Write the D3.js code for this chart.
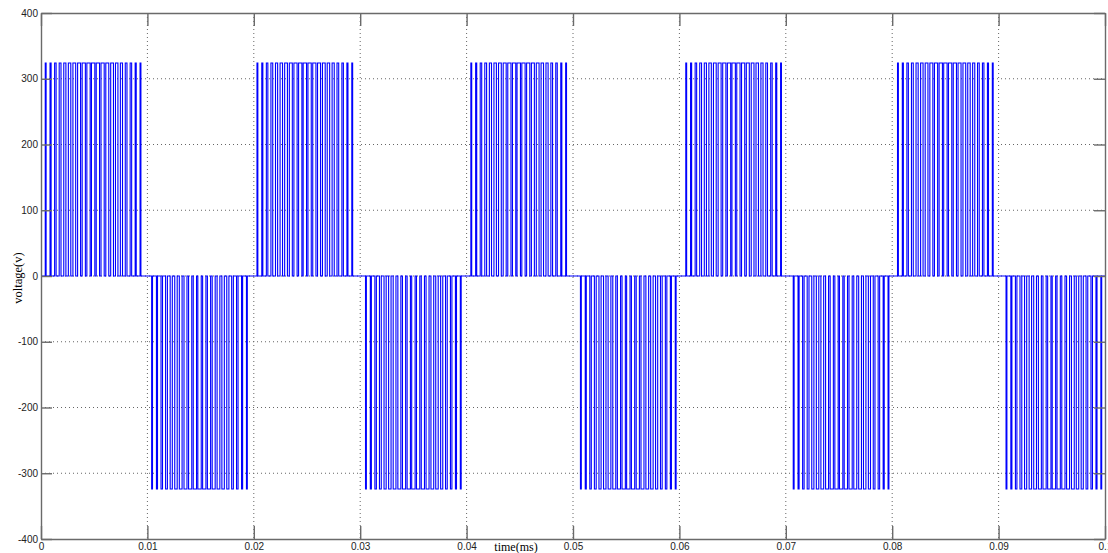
<!DOCTYPE html>
<html>
  <head>
    <meta charset="UTF-8">
    <title>voltage vs time</title>
    <style>
      body { margin: 0; background: #fff; }
      svg { display: block; }
    </style>
  </head>
  <body>

    <svg></svg>

    <script src="https://d3js.org/d3.v7.min.js"></script>
    <script>

// axis ticks
var xTicks = [0, 0.01, 0.02, 0.03, 0.04, 0.05, 0.06, 0.07, 0.08, 0.09, 0.1];
var xTickLabels = ["0", "0.01", "0.02", "0.03", "0.04", "0.05", "0.06", "0.07", "0.08", "0.09", "0.1"];
var yTicks = [-400, -300, -200, -100, 0, 100, 200, 300, 400];
var yTickLabels = ["-400", "-300", "-200", "-100", "0", "100", "200", "300", "400"];

// start time (s) and polarity of each pulse block (one per half cycle)
var blockStart = [0.0004, 0.0104, 0.0203, 0.0305, 0.0404, 0.0507, 0.0606, 0.0707, 0.0805, 0.0907];
var blockSign  = [1, -1, 1, -1, 1, -1, 1, -1, 1, -1];
var peakVolts = 324;

// pulse edges inside one block, in ms from the block start
var pulseOn  = [0.00, 0.45, 0.88, 1.31, 1.74, 2.17, 2.60, 3.04, 3.47, 3.91, 4.34, 4.79, 5.24, 5.69, 6.15, 6.60, 7.06, 7.52, 7.98, 8.45, 8.91];
var pulseOff = [0.08, 0.55, 1.02, 1.48, 1.94, 2.40, 2.86, 3.32, 3.77, 4.22, 4.66, 5.10, 5.54, 5.97, 6.41, 6.83, 7.26, 7.68, 8.12, 8.55, 8.99];

var config = {
  "width": 1108,
  "height": 553,
  "margin": { "top": 13, "right": 3, "bottom": 14, "left": 41 }
};

var svg = d3.select("svg")
  .attr("width", config.width)
  .attr("height", config.height);

var margin = config.margin,
    width = config.width - margin.left - margin.right,
    height = config.height - margin.top - margin.bottom;

var x = d3.scaleLinear().domain([0, 0.1]).range([0, width]);
var y = d3.scaleLinear().domain([-400, 400]).range([height, 0]);

var g = svg.append("g")
  .attr("transform", "translate(" + margin.left + "," + margin.top + ")");

// build the waveform points from the blocks
var points = [[0, 0]];
blockStart.forEach(function(t0, b) {
  var v = blockSign[b] * peakVolts;
  pulseOn.forEach(function(on, i) {
    var a = t0 + on / 1000, e = t0 + pulseOff[i] / 1000;
    points.push([a, 0], [a, v], [e, v], [e, 0]);
  });
});
points.push([0.1, 0]);

// dotted grid
g.append("g").selectAll("line")
  .data(xTicks.slice(1, -1))
  .enter().append("line")
    .attr("x1", function(d) { return x(d); })
    .attr("x2", function(d) { return x(d); })
    .attr("y1", 0).attr("y2", height)
    .attr("stroke", "#666").attr("stroke-width", 1)
    .attr("stroke-dasharray", "1,3");

g.append("g").selectAll("line")
  .data(yTicks.slice(1, -1))
  .enter().append("line")
    .attr("y1", function(d) { return y(d); })
    .attr("y2", function(d) { return y(d); })
    .attr("x1", 0).attr("x2", width)
    .attr("stroke", "#666").attr("stroke-width", 1)
    .attr("stroke-dasharray", "1,3");

// the signal
var line = d3.line()
  .x(function(d) { return x(d[0]); })
  .y(function(d) { return y(d[1]); });

g.append("path")
  .datum(points)
  .attr("fill", "none")
  .attr("stroke", "#0000ff")
  .attr("stroke-width", 1.1)
  .attr("d", line);

// axes box with inward ticks on every side
function axisStyle(sel) {
  sel.select(".domain").attr("stroke", "#6a6a6a").attr("stroke-width", 1.4);
  sel.selectAll(".tick line").attr("stroke", "#6a6a6a").attr("stroke-width", 1.4);
  sel.selectAll(".tick text")
    .attr("fill", "#222")
    .style("font-family", "'Liberation Sans', Arial, sans-serif")
    .style("font-size", "10px");
}

g.append("g")
  .attr("transform", "translate(0," + height + ")")
  .call(d3.axisBottom(x).tickValues(xTicks)
    .tickFormat(function(d, i) { return xTickLabels[i]; })
    .tickSizeInner(-13).tickSizeOuter(0).tickPadding(4))
  .call(axisStyle);

g.append("g")
  .call(d3.axisTop(x).tickValues(xTicks).tickFormat("")
    .tickSizeInner(-13).tickSizeOuter(0))
  .call(axisStyle);

g.append("g")
  .call(d3.axisLeft(y).tickValues(yTicks)
    .tickFormat(function(d, i) { return yTickLabels[i]; })
    .tickSizeInner(-11).tickSizeOuter(0).tickPadding(3))
  .call(axisStyle);

g.append("g")
  .attr("transform", "translate(" + width + ",0)")
  .call(d3.axisRight(y).tickValues(yTicks).tickFormat("")
    .tickSizeInner(-11).tickSizeOuter(0))
  .call(axisStyle);

// axis titles
svg.append("text")
  .attr("x", 516)
  .attr("y", 551)
  .attr("text-anchor", "middle")
  .style("font-family", "'Liberation Serif', 'Times New Roman', serif")
  .style("font-size", "12px")
  .attr("fill", "#000")
  .text("time(ms)");

svg.append("text")
  .attr("transform", "translate(22,278) rotate(-90)")
  .attr("text-anchor", "middle")
  .style("font-family", "'Liberation Serif', 'Times New Roman', serif")
  .style("font-size", "12.5px")
  .attr("fill", "#000")
  .text("voltage(v)");

    </script>
  </body>
</html>
